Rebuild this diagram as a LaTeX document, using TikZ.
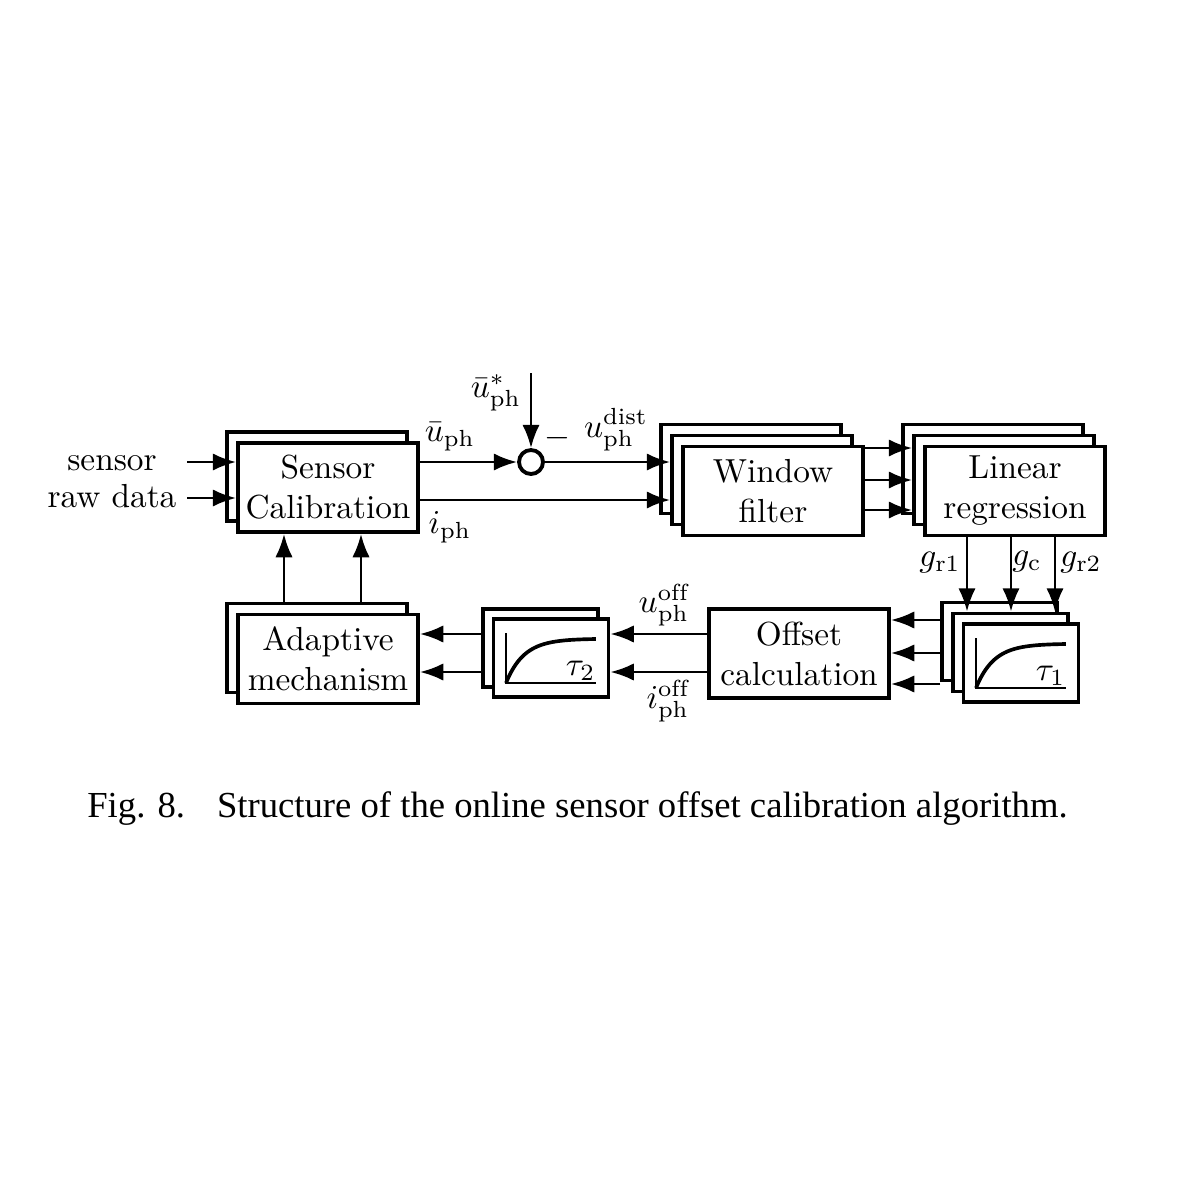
\documentclass[tikz,border=0pt]{standalone}
\usepackage{fontspec}
\newfontfamily\capfont{Liberation Serif}
\usetikzlibrary{arrows.meta}
\begin{document}
\begin{tikzpicture}[x=0.3pt,y=-0.3pt,
  box/.style={draw, line width=1.15pt, fill=white, inner sep=0pt, align=center},
  big/.style={box, minimum width=54pt, minimum height=26.7pt},
  small/.style={box, minimum width=34.5pt, minimum height=23.4pt},
  arr/.style={line width=0.8pt, -{Latex[length=7pt,width=5.2pt]}},
  axisln/.style={line width=0.7pt},
  curveln/.style={line width=1.1pt},
  lbl/.style={inner sep=0pt}]
\useasboundingbox (0,0) rectangle (1199,1199);

% Sensor calibration
\node[big] (sc2) at (317,476.5) {};
\node[big] (sc) at (328,487.5) {Sensor\\Calibration};
% Window filter
\node[big] (wf3) at (751,469) {};
\node[big] (wf2) at (762,480) {};
\node[big] (wf) at (773,491) {Window\\filter};
% Linear regression
\node[big] (lr3) at (993,469) {};
\node[big] (lr2) at (1004,480) {};
\node[big] (lr) at (1015,491) {Linear\\regression};
% tau1 filters
\node[small] (ta3) at (999.5,641.5) {};
\node[small] (ta2) at (1010.5,652.5) {};
\node[small] (ta) at (1021,663) {};
% Offset calculation
\node[big] (oc) at (799,653.5) {Offset\\calculation};
% tau2 filters
\node[small] (tb2) at (540.5,648) {};
\node[small] (tb) at (551,658) {};
% Adaptive mechanism
\node[big] (am2) at (317,648) {};
\node[big] (am) at (328,659) {Adaptive\\mechanism};

% step responses
\draw[axisln] (506,633) -- (506,683) -- (596,683);
\draw[curveln] plot[domain=0:1,samples=60,smooth] ({506+90*\x},{683-44*(1-exp(-5*\x))/(1-exp(-5))});
\node[lbl, anchor=base east] (tau2) at (596,675) {$\tau_2$};
\draw[axisln] (976,638) -- (976,688) -- (1066,688);
\draw[curveln] plot[domain=0:1,samples=60,smooth] ({976+90*\x},{688-44*(1-exp(-5*\x))/(1-exp(-5))});
\node[lbl, anchor=base east] (tau1) at (1066,680) {$\tau_1$};

% inputs
\node[lbl, anchor=base] (lsensor) at (112,470) {sensor};
\node[lbl, anchor=base] (lraw) at (112,507) {raw data};
\coordinate (s1) at (187,462);
\coordinate (s2) at (187,498);
\draw[arr] (s1) -- (s1 -| sc.west);
\draw[arr] (s2) -- (s2 -| sc.west);

% summing junction
\node[circle, draw, line width=1.15pt, minimum size=7.2pt, inner sep=0pt] (sum) at (531,462) {};
\coordinate (us) at (531,373);
\draw[arr] (sum -| sc.east) -- (sum.west);
\draw[arr] (us) -- (sum.north);
\draw[arr] (sum.east) -- (sum -| wf2.west);
\coordinate (ip) at (0,500);
\draw[arr] (ip -| sc.east) -- (ip -| wf2.west);

% window filter -> linear regression
\foreach \yy/\nm in {448/w1,480/w2,510/w3}{
  \coordinate (\nm) at (0,\yy);
  \draw[arr] (\nm -| wf.east) -- (\nm -| lr2.west);
}
% linear regression -> tau1
\foreach \xx/\nm in {967/g1,1011/g2,1055/g3}{
  \coordinate (\nm) at (\xx,0);
  \draw[arr] (\nm |- lr.south) -- (\nm |- ta2.north);
}
% tau1 -> offset calculation
\foreach \yy/\nm in {620/t1,653/t2,684/t3}{
  \coordinate (\nm) at (0,\yy);
  \draw[arr] (\nm -| ta3.west) -- (\nm -| oc.east);
}
% offset calculation -> tau2 -> adaptive
\foreach \yy/\nm in {634/o1,672/o2}{
  \coordinate (\nm) at (0,\yy);
  \draw[arr] (\nm -| oc.west) -- (\nm -| tb.east);
  \draw[arr] (\nm -| tb2.west) -- (\nm -| am.east);
}
% adaptive -> sensor calibration
\foreach \xx/\nm in {284/a1,361/a2}{
  \coordinate (\nm) at (\xx,0);
  \draw[arr] (\nm |- am2.north) -- (\nm |- sc.south);
}

% labels
\node[lbl] (lubar) at (450,437) {$\bar{u}_{\mathrm{ph}}$};
\node[lbl] (liph) at (450,527) {$i_{\mathrm{ph}}$};
\node[lbl] (lustar) at (496,393) {$\bar{u}^{*}_{\mathrm{ph}}$};
\node[lbl] (lminus) at (557,438) {$-$};
\node[lbl] (ldist) at (616,430) {$u^{\mathrm{dist}}_{\mathrm{ph}}$};
\node[lbl] (lgr1) at (940,563) {$g_{\mathrm{r1}}$};
\node[lbl] (lgc) at (1027,562) {$g_{\mathrm{c}}$};
\node[lbl] (lgr2) at (1081,563) {$g_{\mathrm{r2}}$};
\node[lbl] (luoff) at (664,605) {$u^{\mathrm{off}}_{\mathrm{ph}}$};
\node[lbl] (lioff) at (668,701) {$i^{\mathrm{off}}_{\mathrm{ph}}$};

% caption
\node[lbl, anchor=base, font=\capfont\fontsize{11pt}{13pt}\selectfont] (cap) at (577.5,817)
  {Fig. 8.\hspace{0.87em}Structure of the online sensor offset calibration algorithm.};
\end{tikzpicture}
\end{document}
